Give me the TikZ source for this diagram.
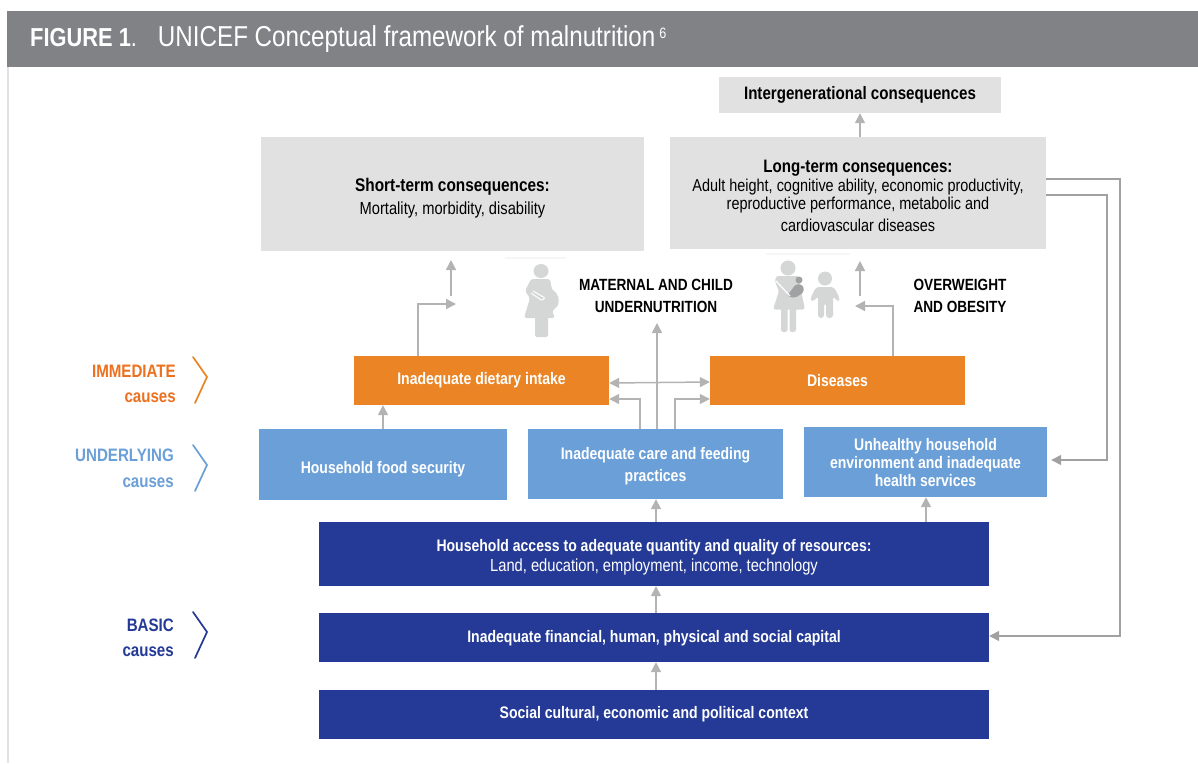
\documentclass[tikz,border=0pt]{standalone}
\usepackage{fontspec}
\setmainfont{Liberation Sans}[FakeStretch=0.84]
\usetikzlibrary{calc,arrows.meta}
\definecolor{hdr}{HTML}{808285}
\definecolor{cons}{HTML}{E1E1E1}
\definecolor{orng}{HTML}{EA8424}
\definecolor{lblu}{HTML}{6A9FD8}
\definecolor{navy}{HTML}{243A96}
\definecolor{arr}{HTML}{B3B3B3}
\definecolor{icon}{HTML}{D5D6D6}
\newcommand{\fs}[2]{\fontsize{#1}{#2}\selectfont}
\newcommand{\htr}[1]{\rule{0pt}{#1}}
\tikzset{
  x=1pt,y=-1pt,
  boxbase/.style={inner sep=0pt,align=center,font=\fs{16.7}{18}\bfseries},
  consbox/.style={boxbase,fill=cons,text=black},
  orangebox/.style={boxbase,fill=orng,text=white},
  bluebox/.style={boxbase,fill=lblu,text=white},
  navybox/.style={boxbase,fill=navy,text=white},
  conn/.style={draw=arr,line width=1.5pt,-{Triangle[length=10pt,width=10pt]}},
  fback/.style={draw=arr!90!black,line width=1.4pt,-{Triangle[length=10pt,width=10pt]}},
  chev/.style={line width=1.7pt,line cap=round,line join=miter},
  sidelab/.style={anchor=east,inner sep=0pt,font=\fs{18}{20}\bfseries},
  blacklab/.style={inner sep=0pt,align=center,font=\fs{16.2}{22.5}\bfseries},
}
\newcommand{\rbox}[7]{\node[#1,minimum width=#4-#3,minimum height=#6-#5] (#2) at ({(#3+#4)/2},{(#5+#6)/2}) {#7};}
\begin{document}
\begin{tikzpicture}
\useasboundingbox (0,0) rectangle (1198,763);
\fill[white] (0,0) rectangle (1198,763);
\fill[icon!70] (7,60) rectangle (9,763);
\rbox{boxbase,fill=hdr}{header}{7}{1198}{11}{67}{}
\node[anchor=west,inner sep=0pt,text=white] (title) at (30,39)
  {\fs{26}{28}\bfseries FIGURE 1\mdseries.\hspace{21pt}\fs{28.8}{28}UNICEF Conceptual framework of malnutrition\hspace{4pt}\raisebox{8pt}{\fs{15}{15}6}};

\rbox{consbox}{inter}{719}{1001}{77}{113}{\fs{18}{20}Intergenerational consequences}
\rbox{consbox}{short}{261}{644}{137}{251}{\fs{18.3}{22}\htr{21pt}Short-term consequences:\\[5pt]\fs{17.5}{20}\mdseries Mortality, morbidity, disability}
\rbox{consbox}{long}{670}{1046}{137}{249}{\fs{18}{22}\htr{18pt}Long-term consequences:\\[1pt]\fs{17.2}{19.5}\mdseries Adult height, cognitive ability, economic productivity,\\\fs{17.2}{19.5}\mdseries reproductive performance, metabolic and\\[4pt]\fs{17.2}{19.5}\mdseries cardiovascular diseases}
\rbox{orangebox}{diet}{354}{609}{356}{405}{Inadequate dietary intake}
\rbox{orangebox}{dis}{710}{965}{356}{405}{Diseases}
\rbox{bluebox}{food}{259}{507}{429}{500}{\htr{22pt}Household food security}
\rbox{bluebox}{care}{528}{783}{429}{499}{\htr{16pt}Inadequate care and feeding\\[4pt]practices}
\rbox{bluebox}{env}{804}{1047}{427}{497}{\htr{13pt}Unhealthy household\\environment and inadequate\\health services}
\rbox{navybox}{access}{319}{989}{522}{586}{\htr{18pt}Household access to adequate quantity and quality of resources:\\[2pt]\fs{17.5}{18}\mdseries Land, education, employment, income, technology}
\rbox{navybox}{capital}{319}{989}{613}{662}{\htr{13pt}Inadequate financial, human, physical and social capital}
\rbox{navybox}{context}{319}{989}{690}{739}{Social cultural, economic and political context}

\node[blacklab] (muln) at (656,296) {MATERNAL AND CHILD\\UNDERNUTRITION};
\node[blacklab] (over) at (960,296) {OVERWEIGHT\\AND OBESITY};

\node[sidelab,text=orng!85!red] (imm) at (176,371.5) {IMMEDIATE};
\node[sidelab,text=orng!85!red] (immc) at (176,397.5) {causes};
\node[sidelab,text=lblu] (und) at (174,455.5) {UNDERLYING};
\node[sidelab,text=lblu] (undc) at (174,482.5) {causes};
\node[sidelab,text=navy] (bas) at (174,625.5) {BASIC};
\node[sidelab,text=navy] (basc) at (174,651.5) {causes};
\draw[chev,orng] (193,357) -- (207,377) -- (195,403);
\draw[chev,lblu] (193,445) -- (207,465) -- (195,491);
\draw[chev,navy] (193,612) -- (207,632) -- (195,658);

% free ends
\coordinate (a1) at (456,304);
\coordinate (a2s) at (451,296);
\coordinate (a2e) at (451,260);
\coordinate (a3) at (855,306);
\coordinate (a4s) at (860,296);
\coordinate (a4e) at (860,261);
\coordinate (und1) at (657,323);

\draw[conn] (long.north -| inter) -- (inter.south);
\draw[conn] (diet.north -| 418,0) |- (a1);
\draw[conn] (a2s) -- (a2e);
\draw[conn] (dis.north -| 893,0) |- (a3);
\draw[conn] (a4s) -- (a4e);
\draw[conn] (care.north -| und1) -- (und1);
\draw[draw=arr,line width=1.5pt,{Triangle[length=10pt,width=10pt]}-{Triangle[length=10pt,width=10pt]}] (diet.east |- 0,383) -- (dis.west |- 0,382);
\draw[conn] (care.north -| 640,0) |- (diet.east |- 0,399);
\draw[conn] (care.north -| 675,0) |- (dis.west |- 0,399);
\draw[conn] (food.north -| 383,0) -- (diet.south -| 383,0);
\draw[conn] (access.north -| 656,0) -- (care.south -| 656,0);
\draw[conn] (access.north -| 926,0) -- (env.south -| 926,0);
\draw[conn] (capital.north -| 656,0) -- (access.south -| 656,0);
\draw[conn] (context.north -| 656,0) -- (capital.south -| 656,0);
\draw[fback] (long.east |- 0,195) -- (1107,195) -- (1107,460) -- ([xshift=4pt]env.east |- 0,460);
\draw[fback] (long.east |- 0,179) -- (1120,179) -- (1120,636) -- (capital.east |- 0,636);

% icons
\begin{scope}[icon]
 \fill[cons!30] (505,257) rectangle (566,258.5);
 \fill[cons!30] (766,253) rectangle (850,254.5);
 % pregnant woman
 \fill (541,271) ellipse (7.5 and 7);
 \fill[rounded corners=2.5pt] (531,279) -- (550,279) -- (552,290) -- (556,292) -- (559,299) -- (558,306) -- (552,311) -- (555,318) -- (524,318) -- (530,298) -- (525,291) -- cycle;
 \fill[rounded corners=2pt] (535,316) rectangle (548,337);
 \draw[white,line width=1pt,rounded corners=1pt] (533,291) -- (545,298) -- (542,300.5) -- (531,293);
 % mother
 \fill (788,268) ellipse (7.5 and 7.5);
 \fill[rounded corners=2.5pt] (776,276) -- (799,276) -- (801,290) -- (805,309.5) -- (773,309.5) -- (779,291) -- (775,282) -- cycle;
 \fill[rounded corners=2.5pt] (781,307) rectangle (787.5,332);
 \fill[rounded corners=2.5pt] (789.5,307) rectangle (796,332);
 \fill[hdr!75] (799,280) circle (3.5);
 \fill[hdr!75,rounded corners=2pt] (787,296) -- (796,284) -- (803,285) -- (804,292) -- (795,298) -- cycle;
 \draw[white,line width=1.2pt] (776,281) -- (790,296);
 % child
 \fill (825,278.5) circle (7);
 \fill[rounded corners=3pt] (816,287) -- (834,287) -- (840,299) -- (838,302) -- (833,296) -- (833,318) -- (826,318) -- (826,303) -- (824,303) -- (824,318) -- (818,318) -- (818,296) -- (813,302) -- (810,299) -- cycle;
\end{scope}
\end{tikzpicture}
\end{document}
